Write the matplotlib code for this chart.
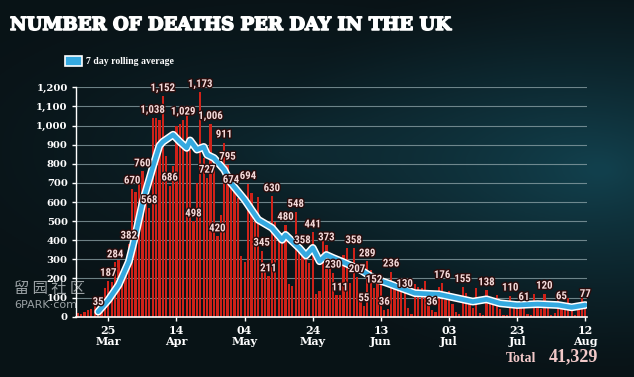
import numpy as np
import pandas as pd
import matplotlib
matplotlib.use("Agg")
import matplotlib.pyplot as plt
import matplotlib.dates as mdates
import matplotlib.patheffects as pe
from matplotlib import font_manager as fm
from matplotlib.patches import Rectangle

# ---------------- data ----------------
dates = pd.date_range("2020-03-16", "2020-08-12", freq="D")
daily_deaths = [
    20, 16, 25, 36, 40, 56, 35, 74, 149, 187, 183, 284, 294, 214, 260, 382,          # Mar 16-31
    670, 650, 710, 760, 700, 568, 1038, 1040, 1030, 1152, 840, 686, 790, 1000,       # Apr 1-14
    1010, 1029, 1100, 870, 498, 700, 1173, 830, 727, 1006, 790, 420, 530, 911,       # Apr 15-28
    795, 674,                                                                        # Apr 29-30
    740, 620, 315, 288, 694, 649, 539, 626, 345, 269, 211, 630, 494, 428, 384, 480,  # May 1-16
    170, 160, 548, 363, 358, 351, 282, 441, 121, 134, 412, 373, 324, 230, 113,       # May 17-31
    111, 324, 359, 176, 358, 207, 77, 55, 289, 245, 152, 202, 181, 36, 38,           # Jun 1-15
    236, 184, 135, 173, 130, 43, 15, 171, 154, 149, 186, 100, 36, 25, 155,           # Jun 16-30
    176, 89, 137, 67, 22, 16, 155, 126, 85, 48, 148, 21, 11, 138, 85, 66,            # Jul 1-16
    114, 40, 11, 11, 110, 79, 53, 123, 61, 14, 7, 119, 83, 38, 120,                  # Jul 17-31
    74, 8, 18, 89, 65, 49, 98, 55, 8, 38, 102, 77,                                   # Aug 1-12
]

avg_dates = [
    "2020-03-22", "2020-03-25", "2020-03-28", "2020-03-31", "2020-04-02", "2020-04-04",
    "2020-04-07", "2020-04-09", "2020-04-10", "2020-04-13", "2020-04-15", "2020-04-17",
    "2020-04-18", "2020-04-20", "2020-04-22", "2020-04-23", "2020-04-25", "2020-04-28",
    "2020-04-30", "2020-05-04", "2020-05-08", "2020-05-12", "2020-05-15", "2020-05-16",
    "2020-05-20", "2020-05-22", "2020-05-24", "2020-05-26", "2020-05-28", "2020-05-30",
    "2020-06-02", "2020-06-07", "2020-06-11", "2020-06-15", "2020-06-19", "2020-06-23",
    "2020-06-30", "2020-07-04", "2020-07-10", "2020-07-14", "2020-07-18", "2020-07-23",
    "2020-07-29", "2020-08-04", "2020-08-08", "2020-08-12",
]
avg_values = [
    26, 88, 166, 288, 430, 595,
    780, 895, 915, 952, 915, 883,
    922, 874, 888, 847, 830, 769,
    699, 612, 507, 465, 402, 428,
    360, 320, 360, 290, 323, 307,
    285, 245, 200, 175, 149, 123,
    117, 102, 79, 91, 70, 61,
    66, 61, 49, 61,
]

label_dates = [
    "2020-03-22", "2020-03-25", "2020-03-27", "2020-03-31", "2020-04-01", "2020-04-04",
    "2020-04-06", "2020-04-07", "2020-04-10", "2020-04-12", "2020-04-16", "2020-04-19",
    "2020-04-21", "2020-04-23", "2020-04-24", "2020-04-26", "2020-04-28", "2020-04-29",
    "2020-04-30", "2020-05-05", "2020-05-09", "2020-05-11", "2020-05-12", "2020-05-16",
    "2020-05-19", "2020-05-21", "2020-05-24", "2020-05-28", "2020-05-30", "2020-06-01",
    "2020-06-05", "2020-06-06", "2020-06-08", "2020-06-09", "2020-06-11", "2020-06-14",
    "2020-06-16", "2020-06-20", "2020-06-28", "2020-07-01", "2020-07-07", "2020-07-14",
    "2020-07-21", "2020-07-25", "2020-07-31", "2020-08-05", "2020-08-12",
]

tick_dates = ["2020-03-25", "2020-04-14", "2020-05-04", "2020-05-24",
              "2020-06-13", "2020-07-03", "2020-07-23", "2020-08-12"]
tick_labels = ["25\nMar", "14\nApr", "04\nMay", "24\nMay",
               "13\nJun", "03\nJul", "23\nJul", "12\nAug"]
y_ticks = [0, 100, 200, 300, 400, 500, 600, 700, 800, 900, 1000, 1100, 1200]

title_text = "NUMBER OF DEATHS PER DAY IN THE UK"
legend_text = "7 day rolling average"
total_label = "Total"
total_value = "41,329"

# ---------------- fonts ----------------
names = {f.name for f in fm.fontManager.ttflist}
serif = "DejaVu Serif"
serif_narrow = "Liberation Serif" if "Liberation Serif" in names else "DejaVu Serif"
narrow = "DejaVu Sans"
for cand in ["Roboto Condensed", "Liberation Sans Narrow", "Open Sans Condensed", "Roboto"]:
    if cand in names:
        narrow = cand
        break

# ---------------- figure ----------------
W, H = 634, 377
fig = plt.figure(figsize=(W / 100, H / 100), dpi=100)

# background gradient
bg = fig.add_axes([0, 0, 1, 1])
yy, xx = np.mgrid[0:1:200j, 0:1:320j]
base = np.array([0.035, 0.075, 0.09])
glow = np.array([0.07, 0.25, 0.30])
d = np.sqrt(((xx - 0.95) / 0.55) ** 2 + ((yy - 0.45) / 0.55) ** 2)
g = np.clip(1 - d, 0, 1) ** 1.3
d2 = np.sqrt(((xx - 0.45) / 0.6) ** 2 + ((yy - 0.4) / 0.45) ** 2)
g2 = np.clip(1 - d2, 0, 1) ** 1.5 * 0.45
img = base[None, None, :] + (glow - base)[None, None, :] * np.clip(g + g2, 0, 1)[..., None]
bg.imshow(img, extent=[0, 1, 0, 1], aspect="auto", origin="upper")
bg.set_axis_off()

# main axes
x0, x1 = 76, 587
yb, yt = 316.7, 87.3
ax = fig.add_axes([x0 / W, 1 - yb / H, (x1 - x0) / W, (yb - yt) / H])
ax.set_facecolor("none")

xd = mdates.date2num(dates)
ax.bar(xd, daily_deaths, width=0.66, color="#cf2219", linewidth=0, zorder=2)

avg_x = mdates.date2num(pd.to_datetime(avg_dates))
ax.plot(avg_x, avg_values, color="#35a9e0", lw=3.4, solid_capstyle="round",
        solid_joinstyle="round", zorder=4,
        path_effects=[pe.Stroke(linewidth=5.6, foreground="white"), pe.Normal()])

ax.set_xlim(xd[0] - 0.5, xd[-1] + 0.5)
ax.set_ylim(0, 1200)
ax.set_yticks(y_ticks)
ax.set_yticklabels([f"{v:,}" for v in y_ticks])
ax.set_xticks(mdates.date2num(pd.to_datetime(tick_dates)))
ax.set_xticklabels(tick_labels)
ax.grid(axis="y", color="#8fa5aa", lw=0.8, alpha=0.75, zorder=0)
ax.set_axisbelow(True)
for s in ("top", "right"):
    ax.spines[s].set_visible(False)
ax.spines["left"].set_color("white")
ax.spines["bottom"].set_color("white")
ax.spines["left"].set_linewidth(1)
ax.spines["bottom"].set_linewidth(1.2)
ax.tick_params(axis="both", colors="white", length=3, width=1)
ax.tick_params(axis="y", pad=3)
ax.tick_params(axis="x", pad=3)
for t in ax.get_yticklabels():
    t.set_fontfamily(serif)
    t.set_fontweight("bold")
    t.set_fontsize(7.2)
    t.set_color("white")
for t in ax.get_xticklabels():
    t.set_fontfamily(serif)
    t.set_fontweight("bold")
    t.set_fontsize(8)
    t.set_color("white")
    t.set_linespacing(1.05)

# value labels
val_by_date = dict(zip(dates, daily_deaths))
for ds in label_dates:
    dt = pd.Timestamp(ds)
    v = val_by_date[dt]
    ax.text(mdates.date2num(dt), v + 16, f"{v:,}", ha="center", va="bottom",
            fontsize=7.8, fontfamily=narrow, fontweight="bold", color="#f4dada",
            zorder=6, clip_on=False,
            path_effects=[pe.withStroke(linewidth=2.0, foreground="#2a0d0d")])

# title
tt = fig.text(10 / W, 1 - 25 / H, title_text, ha="left", va="center",
              fontfamily=serif, fontweight="heavy",
              fontsize=19, color="white",
              path_effects=[pe.withStroke(linewidth=1.1, foreground="white")])
fig.canvas.draw()
r = fig.canvas.get_renderer()
bb = tt.get_window_extent(r)
tt.set_fontsize(19 * 440 / bb.width)

# legend
fig.patches.append(Rectangle((65 / W, 1 - 66 / H), 17 / W, 10 / H, transform=fig.transFigure,
                             facecolor="#35a9e0", edgecolor="white", lw=1.2))
fig.text(86 / W, 1 - 61 / H, legend_text, ha="left", va="center", fontfamily=serif_narrow,
         fontweight="bold", fontsize=7, color="white")

# total
fig.text(536 / W, 1 - 358 / H, total_label, ha="right", va="center", fontfamily=serif_narrow,
         fontweight="bold", fontsize=10, color="#f2c9c9")
fig.text(598 / W, 1 - 357 / H, total_value, ha="right", va="center", fontfamily=serif_narrow,
         fontweight="bold", fontsize=13, color="#f2c9c9")

# watermark
fig.text(14 / W, 1 - 289 / H, "留 园 社 区", ha="left", va="center",
         fontfamily=["Noto Sans CJK SC", "DejaVu Sans"], fontsize=11,
         color="#d8dde0", alpha=0.7)
fig.text(14 / W, 1 - 305 / H, "6PARK·com", ha="left", va="center",
         fontfamily="DejaVu Sans", fontsize=8, color="#d8dde0", alpha=0.7)

fig.savefig("out.png", dpi=100, facecolor="#0a1a20")
